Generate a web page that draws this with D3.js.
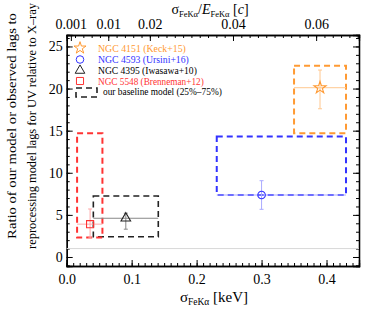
<!DOCTYPE html>
<html>
<head>
<meta charset="utf-8">
<style>
  body { margin: 0; background: #fff; }
</style>
</head>
<body>
<svg id="chart" width="374" height="314"></svg>

<script src="https://d3js.org/d3.v7.min.js"></script>
<script>
// data
var names = ["NGC 4151 (Keck+15)", "NGC 4593 (Ursini+16)", "NGC 4395 (Iwasawa+10)", "NGC 5548 (Brenneman+12)"];
var colors = ["#ff9a33", "#3333ff", "#222222", "#ff3333"];
var errColors = ["#ffc890", "#aaaaff", "#888888", "#ffaaaa"];
var symbols = [d3.symbolStar, d3.symbolCircle, d3.symbolTriangle, d3.symbolSquare];
var sigma = [0.39, 0.30, 0.091, 0.036];
var sigmaLo = [0.350, 0.231, 0.041, 0.016];
var sigmaHi = [0.430, 0.430, 0.141, 0.055];
var ratio = [20.1, 7.36, 4.6, 3.9];
var ratioLo = [17.6, 5.66, 3.3, 2.25];
var ratioHi = [22.2, 9.06, 5.2, 5.7];
var box25 = [14.7, 7.36, 2.4, 2.3];
var box75 = [22.7, 14.3, 7.24, 14.7];
var xTicks = [0.0, 0.1, 0.2, 0.3, 0.4];
var yTicks = [0, 5, 10, 15, 20, 25];
var vTicks = [0.001, 0.01, 0.02, 0.04, 0.06];
var eFeKa = 6.4;   // keV, for the top axis

var serif = "'Liberation Serif', 'Times New Roman', Times, serif";
var svg = d3.select("#chart");
var L = 66.7, R = 359, T = 35, B = 266;

var x = d3.scaleLinear().domain([0, 0.45]).range([L, R]);
var y = d3.scaleLinear().domain([-1.07, 26.36]).range([B, T]);
var xv = d3.scaleLinear().domain([0, 0.45 / eFeKa]).range([L, R]);

// minor ticks
function minor(step, lo, hi) {
  return d3.range(Math.round(lo / step), Math.round(hi / step) + 1).map(function (i) { return +(i * step).toFixed(5); });
}

// stretch a text horizontally to a given width (the original font is wider)
function fit(sel, w) {
  var n = sel.node().getComputedTextLength();
  if (n > 0) sel.attr("transform", "scale(" + (w / n) + ",1)");
}

// bottom axis
svg.append("g").attr("transform", "translate(0," + B + ")")
  .call(d3.axisBottom(x).tickValues(minor(0.01, 0, 0.45)).tickSize(-3).tickFormat(""));
svg.append("g").attr("class", "ax").attr("transform", "translate(0," + B + ")")
  .call(d3.axisBottom(x).tickValues(xTicks).tickSize(-6).tickPadding(8).tickFormat(d3.format(".1f")));
// top axis
svg.append("g").attr("transform", "translate(0," + T + ")")
  .call(d3.axisTop(xv).tickValues(minor(0.002, 0, 0.07)).tickSize(-3).tickFormat(""));
svg.append("g").attr("class", "ax").attr("transform", "translate(0," + T + ")")
  .call(d3.axisTop(xv).tickValues(vTicks).tickSize(-6).tickPadding(6).tickFormat(function (d) { return String(d); }));
// left axis
svg.append("g").attr("transform", "translate(" + L + ",0)")
  .call(d3.axisLeft(y).tickValues(minor(1, -1, 26)).tickSize(-3).tickFormat(""));
svg.append("g").attr("class", "ax").attr("transform", "translate(" + L + ",0)")
  .call(d3.axisLeft(y).tickValues(yTicks).tickSize(-6).tickPadding(4));
// right axis
svg.append("g").attr("transform", "translate(" + R + ",0)")
  .call(d3.axisRight(y).tickValues(minor(1, -1, 26)).tickSize(-3).tickFormat(""));
svg.append("g").attr("transform", "translate(" + R + ",0)")
  .call(d3.axisRight(y).tickValues(yTicks).tickSize(-6).tickFormat(""));

svg.selectAll(".domain").attr("stroke", "#000").attr("stroke-width", 1.3);
svg.selectAll(".tick line").attr("stroke", "#000");
svg.selectAll(".ax text").style("font-size", "14px").style("font-family", serif).attr("fill", "#000");

// gray reference line at ratio = 1
svg.append("line")
  .attr("x1", x(0)).attr("x2", x(0.45))
  .attr("y1", y(1)).attr("y2", y(1))
  .attr("stroke", "#d8d8d8").attr("stroke-width", 1);

var idx = d3.range(names.length);

// dashed 25%-75% boxes
svg.selectAll(".box").data(idx).enter().append("rect")
  .attr("x", function (i) { return x(sigmaLo[i]); })
  .attr("y", function (i) { return y(box75[i]); })
  .attr("width", function (i) { return x(sigmaHi[i]) - x(sigmaLo[i]); })
  .attr("height", function (i) { return y(box25[i]) - y(box75[i]); })
  .attr("fill", "none")
  .attr("stroke", function (i) { return colors[i]; })
  .attr("stroke-width", function (i) { return i == 2 ? 1.6 : 2; })
  .attr("stroke-dasharray", "6,4");

// error bars
var eb = svg.selectAll(".err").data(idx).enter().append("g");
eb.append("line")
  .attr("x1", function (i) { return x(sigmaLo[i]); })
  .attr("x2", function (i) { return x(sigmaHi[i]); })
  .attr("y1", function (i) { return y(ratio[i]); })
  .attr("y2", function (i) { return y(ratio[i]); })
  .attr("stroke", function (i) { return errColors[i]; });
eb.append("line")
  .attr("x1", function (i) { return x(sigma[i]); })
  .attr("x2", function (i) { return x(sigma[i]); })
  .attr("y1", function (i) { return y(ratioLo[i]); })
  .attr("y2", function (i) { return y(ratioHi[i]); })
  .attr("stroke", function (i) { return errColors[i]; });
eb.selectAll(".cap").data(function (i) { return [[i, ratioLo[i]], [i, ratioHi[i]]]; }).enter().append("line")
  .attr("x1", function (d) { return x(sigma[d[0]]) - 2; })
  .attr("x2", function (d) { return x(sigma[d[0]]) + 2; })
  .attr("y1", function (d) { return y(d[1]); })
  .attr("y2", function (d) { return y(d[1]); })
  .attr("stroke", function (d) { return errColors[d[0]]; });

// markers
var symSize = [45, 45, 40, 50];
svg.selectAll(".pt").data(idx).enter().append("path")
  .attr("transform", function (i) { return "translate(" + x(sigma[i]) + "," + y(ratio[i]) + ")"; })
  .attr("d", function (i) { return d3.symbol().type(symbols[i]).size(symSize[i])(); })
  .attr("fill", "none")
  .attr("stroke", function (i) { return colors[i]; })
  .attr("stroke-width", 1.1);

// legend
var leg = svg.append("g");
var rowY = [48, 59.5, 70.5, 81];
var legW = [88, 91, 99, 106];
idx.forEach(function (i) {
  leg.append("path")
    .attr("transform", "translate(80," + rowY[i] + ")")
    .attr("d", d3.symbol().type(symbols[i]).size(symSize[i])())
    .attr("fill", "none").attr("stroke", colors[i]).attr("stroke-width", 1);
  var t = leg.append("g").attr("transform", "translate(98," + (rowY[i] + 3.5) + ")")
    .append("text")
    .style("font-size", "10.5px").style("font-family", serif)
    .attr("fill", colors[i] == "#222222" ? "#000" : colors[i])
    .text(names[i]);
  fit(t, legW[i]);
});
leg.append("rect")
  .attr("x", 76).attr("y", 88).attr("width", 21).attr("height", 9)
  .attr("fill", "none").attr("stroke", "#222").attr("stroke-width", 1.6)
  .attr("stroke-dasharray", "6,4");
var bl = leg.append("g").attr("transform", "translate(103,95)")
  .append("text")
  .style("font-size", "10.5px").style("font-family", serif).attr("fill", "#000")
  .text("our baseline model (25%\u201375%)");
fit(bl, 119);

// axis titles
var bt = svg.append("text").attr("x", 214).attr("y", 302).attr("text-anchor", "middle")
  .style("font-size", "15px").style("font-family", serif).attr("fill", "#000");
bt.append("tspan").text("\u03c3");
bt.append("tspan").attr("dy", 3).style("font-size", "9.5px").text("FeK\u03b1");
bt.append("tspan").attr("dy", -3).text(" [keV]");

var tt = svg.append("text").attr("x", 210).attr("y", 14).attr("text-anchor", "middle")
  .style("font-size", "14px").style("font-family", serif).attr("fill", "#000");
tt.append("tspan").text("\u03c3");
tt.append("tspan").attr("dy", 3).style("font-size", "8.5px").text("FeK\u03b1");
tt.append("tspan").attr("dy", -3).text("/");
tt.append("tspan").style("font-style", "italic").text("E");
tt.append("tspan").attr("dy", 3).style("font-size", "8.5px").text("FeK\u03b1");
tt.append("tspan").attr("dy", -3).text(" [");
tt.append("tspan").style("font-style", "italic").text("c");
tt.append("tspan").text("]");

var y1 = svg.append("g").attr("transform", "translate(16,126) rotate(-90)")
  .append("text").attr("text-anchor", "middle")
  .style("font-size", "13px").style("font-family", serif).attr("fill", "#000")
  .text("Ratio of our model or observed lags to");
fit(y1, 226);
var y2 = svg.append("g").attr("transform", "translate(36,126) rotate(-90)")
  .append("text").attr("text-anchor", "middle")
  .style("font-size", "13px").style("font-family", serif).attr("fill", "#000")
  .text("reprocessing model lags for UV relative to X\u2013ray");
fit(y2, 246);
</script>
</body>
</html>
